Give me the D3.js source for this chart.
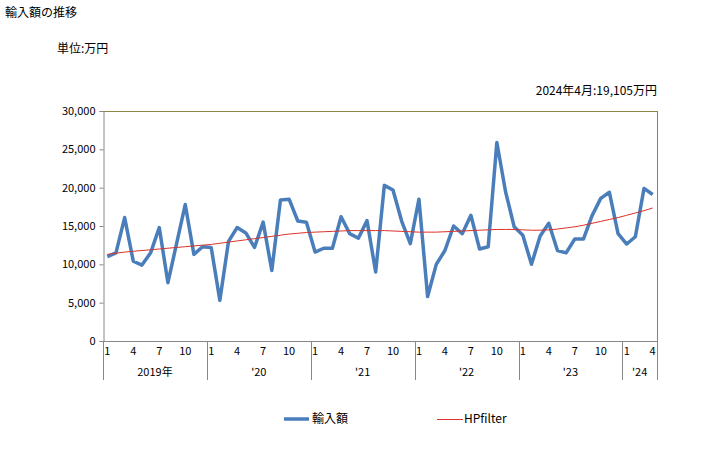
<!DOCTYPE html>
<html>
<head>
<meta charset="utf-8">
<script src="https://cdn.jsdelivr.net/npm/d3@7/dist/d3.min.js"></script>
<style>
body { margin: 0; background: #fff; }
svg text { font-family: "Noto Sans CJK JP", "Noto Sans", sans-serif; fill: #000; }
</style>
</head>
<body>
<svg id="chart" width="728" height="450"></svg>
<script>
const years = ["2019年", "'20", "'21", "'22", "'23", "'24"];
const monthsPerYear = [12, 12, 12, 12, 12, 4];
const monthTickLabels = ["1", "4", "7", "10"];
const yTicks = [0, 5000, 10000, 15000, 20000, 25000, 30000];

const importValues = [
  11000, 11500, 16100, 10400, 9900, 11500, 14800, 7600, 12700, 17800, 11300, 12300,
  12200, 5300, 13000, 14800, 14100, 12200, 15500, 9200, 18400, 18500, 15650, 15500,
  11600, 12100, 12100, 16200, 14000, 13400, 15700, 9000, 20300, 19700, 15650, 12700,
  18500, 5800, 10000, 11800, 15000, 14000, 16400, 12000, 12300, 25900, 19500, 14900,
  13800, 10000, 13700, 15350, 11800, 11500, 13300, 13300, 16350, 18600, 19400, 14000,
  12650, 13600, 19900, 19105
];
const hpValues = [
  11300, 11450, 11600, 11700, 11800, 11900, 12000, 12100, 12200, 12300, 12400, 12500,
  12600, 12750, 12900, 13050, 13200, 13350, 13500, 13650, 13800, 13950, 14050, 14150,
  14200, 14250, 14300, 14350, 14400, 14400, 14400, 14400, 14400, 14350, 14300, 14250,
  14200, 14200, 14200, 14250, 14300, 14350, 14400, 14450, 14500, 14550, 14550, 14550,
  14500, 14450, 14450, 14500, 14600, 14750, 14900, 15100, 15350, 15600, 15850, 16100,
  16400, 16700, 17000, 17350
];

const title = "輸入額の推移";
const unitLabel = "単位:万円";
const latestLabel = "2024年4月:19,105万円";
const seriesNames = ["輸入額", "HPfilter"];

const svg = d3.select("#chart");
const L = 103, R = 657, T = 111, B = 341;

const idx = d3.range(importValues.length);
const x = d3.scaleBand().domain(idx).range([L, R]).padding(0);
const cx = i => x(i) + x.bandwidth() / 2;
const y = d3.scaleLinear().domain([0, 30000]).range([B, T]);

// texts
svg.append("text").attr("x", 5).attr("y", 17).attr("font-size", 12).text(title);
svg.append("text").attr("x", 57).attr("y", 53).attr("font-size", 12).text(unitLabel);
svg.append("text").attr("x", 657).attr("y", 95).attr("font-size", 12).attr("text-anchor", "end").text(latestLabel);

// plot border top/right
svg.append("line").attr("x1", L).attr("x2", R).attr("y1", T + 0.5).attr("y2", T + 0.5).attr("stroke", "#8c8448").attr("stroke-width", 1);
svg.append("line").attr("x1", R + 0.5).attr("x2", R + 0.5).attr("y1", T).attr("y2", B).attr("stroke", "#8c8448").attr("stroke-width", 1);

// y axis
const yAxis = d3.axisLeft(y).tickValues(yTicks).tickSize(4).tickPadding(4).tickFormat(d3.format(","));
const gy = svg.append("g").attr("transform", `translate(${L + 0.5},0)`).call(yAxis);
gy.select(".domain").attr("stroke", "#888");
gy.selectAll(".tick line").attr("stroke", "#888");
gy.selectAll(".tick text").attr("font-size", 11).attr("font-family", "'Noto Sans CJK JP', sans-serif");

// x axis baseline
svg.append("line").attr("x1", L).attr("x2", R + 1).attr("y1", B + 0.5).attr("y2", B + 0.5).attr("stroke", "#888");

// year separators and labels
let start = 0;
const bounds = [];
monthsPerYear.forEach((n, k) => {
  bounds.push(start);
  const x0 = x(start), x1 = start + n < importValues.length ? x(start + n) : R;
  svg.append("text").attr("x", (x0 + x1) / 2).attr("y", 376).attr("font-size", 11).attr("text-anchor", "middle").text(years[k]);
  for (let m = 0; m < n; m += 3) {
    svg.append("text").attr("x", cx(start + m)).attr("y", 355).attr("font-size", 11).attr("text-anchor", "middle").text(monthTickLabels[m / 3]);
  }
  start += n;
});
bounds.push(importValues.length);
bounds.forEach(b => {
  const xx = b < importValues.length ? x(b) : R;
  svg.append("line").attr("x1", Math.round(xx) + 0.5).attr("x2", Math.round(xx) + 0.5).attr("y1", B).attr("y2", 380).attr("stroke", "#888");
});

// lines
const line = d3.line().x((d, i) => cx(i)).y(d => y(d));
svg.append("path").datum(importValues).attr("d", line).attr("fill", "none").attr("stroke", "#4a7ebb").attr("stroke-width", 3.5).attr("stroke-linejoin", "round");
svg.append("path").datum(hpValues).attr("d", line).attr("fill", "none").attr("stroke", "#d9322b").attr("stroke-width", 1);

// legend
svg.append("line").attr("x1", 284).attr("x2", 309).attr("y1", 419).attr("y2", 419).attr("stroke", "#4a7ebb").attr("stroke-width", 3.5);
svg.append("text").attr("x", 312).attr("y", 423).attr("font-size", 12).text(seriesNames[0]);
svg.append("line").attr("x1", 437).attr("x2", 463).attr("y1", 419.5).attr("y2", 419.5).attr("stroke", "#d9322b").attr("stroke-width", 1);
svg.append("text").attr("x", 464).attr("y", 423).attr("font-size", 12).text(seriesNames[1]);
</script>
</body>
</html>
